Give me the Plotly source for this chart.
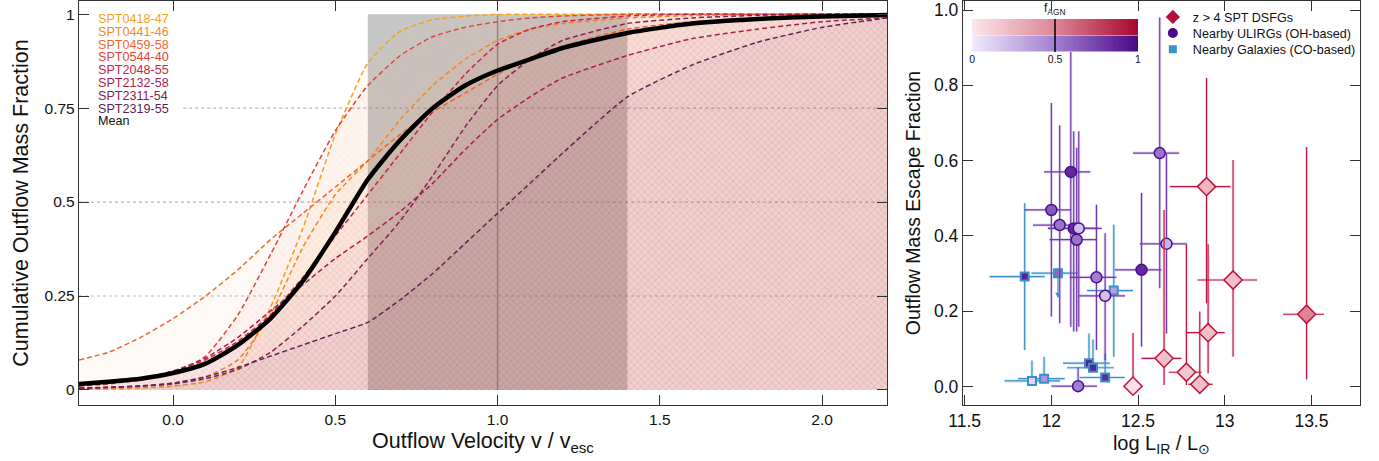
import numpy as np
import plotly.graph_objects as go

# ---------------- Left panel: cumulative outflow mass fraction ----------------
v_grid = [-0.29, -0.2, -0.1, 0.0, 0.1, 0.2, 0.3, 0.4, 0.5, 0.6, 0.7, 0.8, 0.9,
          1.0, 1.1, 1.2, 1.4, 1.6, 1.8, 2.0, 2.2]

source_names = ["SPT0418-47", "SPT0441-46", "SPT0459-58", "SPT0544-40",
                "SPT2048-55", "SPT2132-58", "SPT2311-54", "SPT2319-55"]

spt0418_47 = [0.002, 0.003, 0.005, 0.01, 0.022, 0.06, 0.22, 0.43, 0.68, 0.87, 0.955,
              0.985, 0.995, 0.999, 1.0, 1.0, 1.0, 1.0, 1.0, 1.0, 1.0]
spt0441_46 = [0.004, 0.006, 0.01, 0.018, 0.035, 0.08, 0.2, 0.38, 0.52, 0.61, 0.72,
              0.81, 0.88, 0.93, 0.96, 0.975, 0.99, 0.996, 0.999, 1.0, 1.0]
spt0459_58 = [0.08, 0.10, 0.14, 0.19, 0.25, 0.32, 0.40, 0.47, 0.54, 0.61, 0.68,
              0.74, 0.79, 0.84, 0.885, 0.915, 0.96, 0.98, 0.99, 0.996, 1.0]
spt0544_40 = [0.01, 0.016, 0.027, 0.045, 0.09, 0.2, 0.36, 0.53, 0.69, 0.81, 0.89,
              0.94, 0.965, 0.98, 0.99, 0.995, 1.0, 1.0, 1.0, 1.0, 1.0]
spt2048_55 = [0.012, 0.018, 0.03, 0.05, 0.08, 0.13, 0.2, 0.3, 0.41, 0.52, 0.63,
              0.74, 0.84, 0.92, 0.96, 0.98, 0.995, 1.0, 1.0, 1.0, 1.0]
spt2132_58 = [0.012, 0.018, 0.03, 0.05, 0.085, 0.14, 0.21, 0.28, 0.35, 0.41, 0.475,
              0.55, 0.64, 0.72, 0.78, 0.83, 0.89, 0.935, 0.96, 0.98, 0.99]
spt2311_54 = [0.004, 0.007, 0.01, 0.016, 0.03, 0.055, 0.1, 0.17, 0.25, 0.35, 0.45,
              0.57, 0.70, 0.81, 0.88, 0.93, 0.975, 0.99, 0.997, 1.0, 1.0]
spt2319_55 = [0.005, 0.007, 0.011, 0.018, 0.035, 0.06, 0.09, 0.12, 0.15, 0.18, 0.24,
              0.31, 0.39, 0.47, 0.55, 0.63, 0.78, 0.865, 0.925, 0.965, 0.99]
mean_curve = [0.016, 0.022, 0.03, 0.045, 0.07, 0.12, 0.19, 0.29, 0.42, 0.56, 0.665,
              0.75, 0.81, 0.85, 0.88, 0.91, 0.95, 0.975, 0.987, 0.994, 0.998]

curves = [spt0418_47, spt0441_46, spt0459_58, spt0544_40,
          spt2048_55, spt2132_58, spt2311_54, spt2319_55]
curve_colors = ["#f5a31e", "#f28b22", "#ec6a2a", "#e2443a",
                "#cb2345", "#a81d4f", "#842251", "#602453"]

escape_band = [0.6, 1.4]      # shaded v/v_esc interval
v_escape = 1.0

# ---------------- Right panel: escape fraction vs L_IR ----------------
spt_logL = [12.895, 13.048, 13.472, 12.904, 12.65, 12.779, 12.856, 12.471]
spt_fesc = [0.531, 0.283, 0.192, 0.143, 0.075, 0.038, 0.006, 0.001]
spt_L_lo = [12.683, 12.843, 13.337, 12.779, 12.52, 12.677, 12.79, 12.43]
spt_L_hi = [13.033, 13.187, 13.573, 13.0, 12.75, 12.866, 12.93, 12.51]
spt_f_lo = [0.221, 0.079, 0.019, 0.035, 0.004, 0.004, 0.0, 0.0]
spt_f_hi = [0.820, 0.602, 0.636, 0.378, 0.469, 0.378, 0.199, 0.142]
spt_fagn = [0.25, 0.2, 0.5, 0.2, 0.2, 0.15, 0.2, 0.03]

ulirg_logL = [12.625, 12.112, 12.0, 12.048, 12.129, 12.158, 12.146, 12.26, 12.31, 12.52, 12.664, 12.154]
ulirg_fesc = [0.620, 0.570, 0.469, 0.429, 0.420, 0.420, 0.390, 0.290, 0.241, 0.310, 0.379, 0.001]
ulirg_L_lo = [12.471, 11.958, 11.846, 11.894, 11.98, 11.98, 11.99, 12.106, 12.158, 12.366, 12.51, 12.0]
ulirg_L_hi = [12.737, 12.225, 12.112, 12.164, 12.27, 12.29, 12.26, 12.375, 12.425, 12.635, 12.78, 12.263]
ulirg_f_lo = [0.261, 0.159, 0.186, 0.168, 0.146, 0.159, 0.146, 0.097, 0.070, 0.106, 0.141, 0.0]
ulirg_f_hi = [0.980, 0.970, 0.753, 0.694, 0.678, 0.678, 0.634, 0.483, 0.407, 0.514, 0.618, 0.051]
ulirg_fagn = [0.55, 0.85, 0.65, 0.55, 0.85, 0.2, 0.55, 0.5, 0.2, 0.85, 0.25, 0.5]

co_logL = [12.038, 11.846, 12.36, 12.217, 12.24, 12.31, 11.888, 11.958]
co_fesc = [0.301, 0.292, 0.255, 0.062, 0.050, 0.024, 0.015, 0.021]
co_L_lo = [11.885, 11.644, 12.206, 12.067, 12.09, 12.163, 11.73, 11.808]
co_L_hi = [12.154, 11.962, 12.471, 12.337, 12.36, 12.423, 12.05, 12.077]
co_f_lo = [0.301, 0.097, 0.079, 0.062, 0.050, 0.024, 0.015, 0.021]
co_f_hi = [0.301, 0.487, 0.430, 0.141, 0.125, 0.088, 0.069, 0.079]
co_fagn = [0.6, 0.9, 0.35, 0.9, 0.9, 0.85, 0.1, 0.4]
co_upper_limit_index = 0
co_upper_limit_to = 0.235

fagn_ticks = [0, 0.5, 1]
fagn_tick_text = ["0", "0.5", "1"]

# ---------------- styling helpers ----------------
FONT = "Liberation Sans, Arial, Helvetica, sans-serif"
RED_CS = [[0, "#fde6ea"], [0.5, "#dc8596"], [1, "#a6062e"]]
PURPLE_CS = [[0, "#f1e9fc"], [0.5, "#a17fd0"], [1, "#4a0686"]]


def rgba(hex_color, a):
    h = hex_color.lstrip("#")
    r, g, b = int(h[0:2], 16), int(h[2:4], 16), int(h[4:6], 16)
    return f"rgba({r},{g},{b},{a})"


def diffs(center, lo, hi):
    c = np.array(center)
    return list(np.array(hi) - c), list(c - np.array(lo))


fig = go.Figure()

# individual source curves with hatched fills
for name, vals, col in zip(source_names, curves, curve_colors):
    fig.add_trace(go.Scatter(
        x=v_grid, y=vals, mode="lines", name=name, showlegend=False,
        line=dict(color=col, width=1.5, dash="5px,3px", shape="spline", smoothing=0.5),
        fill="tozeroy", fillcolor=rgba(col, 0.035),
        fillpattern=dict(shape="x", fgcolor=rgba(col, 0.16), bgcolor=rgba(col, 0.035),
                         size=5, solidity=0.12),
        xaxis="x", yaxis="y", hoverinfo="skip"))

fig.add_trace(go.Scatter(
    x=v_grid, y=mean_curve, mode="lines", name="Mean", showlegend=False,
    line=dict(color="black", width=4.5, shape="spline", smoothing=0.6),
    xaxis="x", yaxis="y", hoverinfo="skip"))

# ---- right panel ----
co_ex_p, co_ex_m = diffs(co_logL, co_L_lo, co_L_hi)
co_ey_p, co_ey_m = diffs(co_fesc, co_f_lo, co_f_hi)
ul_ex_p, ul_ex_m = diffs(ulirg_logL, ulirg_L_lo, ulirg_L_hi)
ul_ey_p, ul_ey_m = diffs(ulirg_fesc, ulirg_f_lo, ulirg_f_hi)
sp_ex_p, sp_ex_m = diffs(spt_logL, spt_L_lo, spt_L_hi)
sp_ey_p, sp_ey_m = diffs(spt_fesc, spt_f_lo, spt_f_hi)


def add_group(xs, ys, exp, exm, eyp, eym, halo_col, err_col, marker):
    fig.add_trace(go.Scatter(
        x=xs, y=ys, mode="markers", marker=dict(size=1, opacity=0), showlegend=False,
        error_x=dict(type="data", symmetric=False, array=exp, arrayminus=exm,
                     color=halo_col, thickness=3, width=0),
        error_y=dict(type="data", symmetric=False, array=eyp, arrayminus=eym,
                     color=halo_col, thickness=3, width=0),
        xaxis="x2", yaxis="y2", hoverinfo="skip"))
    fig.add_trace(go.Scatter(
        x=xs, y=ys, mode="markers", marker=marker, showlegend=False,
        error_x=dict(type="data", symmetric=False, array=exp, arrayminus=exm,
                     color=err_col, thickness=1.2, width=0),
        error_y=dict(type="data", symmetric=False, array=eyp, arrayminus=eym,
                     color=err_col, thickness=1.2, width=0),
        xaxis="x2", yaxis="y2", hoverinfo="skip"))


add_group(co_logL, co_fesc, co_ex_p, co_ex_m, co_ey_p, co_ey_m,
          "rgba(120,190,230,0.35)", "#3b8fc6",
          dict(symbol="square", size=8, color=co_fagn, colorscale=PURPLE_CS, cmin=0, cmax=1,
               line=dict(color="#3b8fc6", width=2)))
add_group(ulirg_logL, ulirg_fesc, ul_ex_p, ul_ex_m, ul_ey_p, ul_ey_m,
          "rgba(170,135,215,0.3)", "#7236b0",
          dict(symbol="circle", size=11, color=ulirg_fagn, colorscale=PURPLE_CS, cmin=0, cmax=1,
               line=dict(color="#4c0c8e", width=1.5)))
add_group(spt_logL, spt_fesc, sp_ex_p, sp_ex_m, sp_ey_p, sp_ey_m,
          "rgba(238,170,186,0.35)", "#c0143e",
          dict(symbol="diamond", size=14, color=spt_fagn, colorscale=RED_CS, cmin=0, cmax=1,
               line=dict(color="#c0143e", width=1.5)))

legend_entries = [
    ("z > 4 SPT DSFGs", dict(symbol="diamond", size=11, color="#b3123d"), "legend"),
    ("Nearby ULIRGs (OH-based)", dict(symbol="circle", size=10, color="#4b0a8c"), "legend2"),
    ("Nearby Galaxies (CO-based)", dict(symbol="square", size=8, color="#3a90c8"), "legend3"),
]
for label, mk, lg in legend_entries:
    fig.add_trace(go.Scatter(x=[None], y=[None], mode="markers", marker=mk, name=label,
                             showlegend=True, legend=lg, xaxis="x2", yaxis="y2"))

# f_AGN colour key (inset)
fagn_key = np.linspace(0, 1, 101)
fig.add_trace(go.Heatmap(x=fagn_key, y=[0], z=[fagn_key], colorscale=PURPLE_CS, zmin=0, zmax=1,
                         showscale=False, xaxis="x3", yaxis="y3", hoverinfo="skip"))
fig.add_trace(go.Heatmap(x=fagn_key, y=[1], z=[fagn_key], colorscale=RED_CS, zmin=0, zmax=1,
                         showscale=False, xaxis="x3", yaxis="y3", hoverinfo="skip"))

# ---------------- shapes ----------------
shapes = [
    dict(type="rect", xref="x", yref="y", x0=escape_band[0], x1=escape_band[1], y0=0, y1=1,
         fillcolor="rgba(120,120,120,0.42)", line=dict(width=0), layer="below"),
]
for gy, x0 in [(0.25, 0.0), (0.5, 0.0), (0.75, 0.129)]:
    shapes.append(dict(type="line", xref="x domain", yref="y", x0=x0, x1=1, y0=gy, y1=gy,
                       line=dict(color="#b5b5b5", width=1.2, dash="dot"), layer="below"))
shapes.append(dict(type="line", xref="x", yref="y", x0=v_escape, x1=v_escape, y0=0, y1=1,
                   line=dict(color="#8a8a8a", width=1.5), layer="between"))
shapes.append(dict(type="line", xref="x3", yref="y3 domain", x0=0.5, x1=0.5, y0=0, y1=1,
                   line=dict(color="black", width=1.5), layer="above"))

# ---------------- annotations ----------------
annotations = []
legend_labels = source_names + ["Mean"]
legend_cols = curve_colors + ["#111111"]
for i, (lab, col) in enumerate(zip(legend_labels, legend_cols)):
    annotations.append(dict(xref="x domain", yref="paper", x=0.021, y=0.9555 - 0.0317 * i,
                            text=lab, showarrow=False, xanchor="left", yanchor="middle",
                            font=dict(family=FONT, size=12.6, color=col)))
annotations.append(dict(xref="x3", yref="y3 domain", x=0.5, y=1.0, yanchor="bottom",
                        text="f<sub>AGN</sub>", showarrow=False,
                        font=dict(family=FONT, size=12, color="#111")))
annotations.append(dict(x=co_logL[co_upper_limit_index], y=co_upper_limit_to,
                        ax=co_logL[co_upper_limit_index], ay=co_fesc[co_upper_limit_index],
                        xref="x2", yref="y2", axref="x2", ayref="y2", text="",
                        showarrow=True, arrowhead=2, arrowsize=0.9, arrowwidth=1.2,
                        arrowcolor="#3b8fc6"))

axis_common = dict(ticks="inside", ticklen=10, tickwidth=1.3, tickcolor="#333",
                   showline=True, linecolor="#333", linewidth=1.4, mirror="ticks",
                   showgrid=False, zeroline=False, automargin=False)
left_tick_font = dict(family=FONT, size=15.5, color="#111")
right_tick_font = dict(family=FONT, size=17.5, color="#111")

fig.update_layout(
    width=1379, height=461,
    margin=dict(l=0, r=0, t=1, b=56, autoexpand=False),
    paper_bgcolor="white", plot_bgcolor="white",
    font=dict(family=FONT, color="#111"),
    hovermode=False,
    xaxis=dict(domain=[0.0573, 0.6432], range=[-0.29, 2.2], anchor="y",
               tickvals=[0, 0.5, 1.0, 1.5, 2.0], ticktext=["0.0", "0.5", "1.0", "1.5", "2.0"],
               tickfont=left_tick_font,
               title=dict(text="Outflow Velocity v / v<sub>esc</sub>", standoff=6,
                          font=dict(family=FONT, size=21.5, color="#111")),
               **axis_common),
    yaxis=dict(domain=[0, 1], range=[-0.04, 1.035], anchor="x",
               tickvals=[0, 0.25, 0.5, 0.75, 1], ticktext=["0", "0.25", "0.5", "0.75", "1"],
               tickfont=left_tick_font,
               title=dict(text="Cumulative Outflow Mass Fraction", standoff=10,
                          font=dict(family=FONT, size=21.5, color="#111")),
               **axis_common),
    xaxis2=dict(domain=[0.6983, 0.9862], range=[11.49, 13.78], anchor="y2",
                tickvals=[11.5, 12, 12.5, 13, 13.5], ticktext=["11.5", "12", "12.5", "13", "13.5"],
                tickfont=right_tick_font,
                title=dict(text="log L<sub>IR</sub> / L<sub>\u2299</sub>", standoff=5,
                           font=dict(family=FONT, size=20, color="#111")),
                **axis_common),
    yaxis2=dict(domain=[0, 1], range=[-0.049, 1.024], anchor="x2",
                tickvals=[0, 0.2, 0.4, 0.6, 0.8, 1.0],
                ticktext=["0.0", "0.2", "0.4", "0.6", "0.8", "1.0"],
                tickfont=right_tick_font,
                title=dict(text="Outflow Mass Escape Fraction", standoff=8,
                           font=dict(family=FONT, size=19.5, color="#111")),
                **axis_common),
    xaxis3=dict(domain=[0.7049, 0.8252], range=[0, 1], anchor="y3",
                tickvals=fagn_ticks, ticktext=fagn_tick_text, ticks="", showline=False,
                showgrid=False, zeroline=False, automargin=False,
                tickfont=dict(family=FONT, size=10.5, color="#111")),
    yaxis3=dict(domain=[0.8738, 0.9554], range=[-0.5, 1.5], anchor="x3", visible=False),
    shapes=shapes,
    annotations=annotations,
)

leg_common = dict(xanchor="left", yanchor="middle", bgcolor="rgba(0,0,0,0)", borderwidth=0,
                  font=dict(family=FONT, size=12.6, color="#111"), itemwidth=30)
fig.update_layout(
    legend=dict(x=0.836, y=0.9597, **leg_common),
    legend2=dict(x=0.836, y=0.920, **leg_common),
    legend3=dict(x=0.836, y=0.880, **leg_common),
)

fig.write_html("out.html", config={"displayModeBar": False},
               post_script="document.body.style.margin='0px';")
